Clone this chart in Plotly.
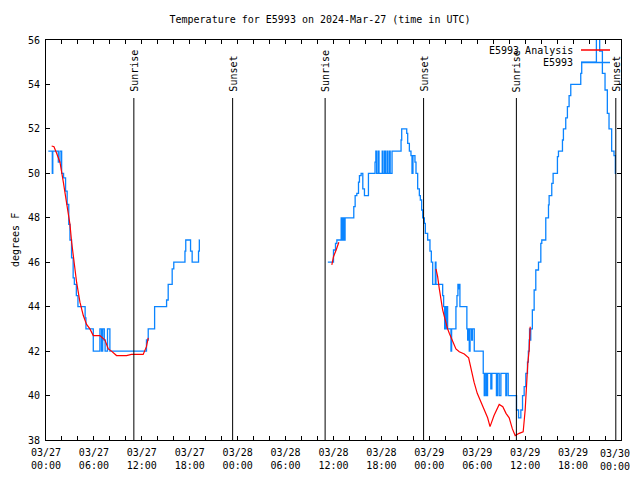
import plotly.graph_objects as go
import pandas as pd

BASE = pd.Timestamp("2024-03-27 00:00")

# ---- data (hours since 2024-03-27 00:00 UTC, temperatures in degrees F) ----
obs_hours = [0.29, 0.79, 0.85, 1.54, 1.75, 1.96, 2.2, 2.45, 2.65, 2.85, 3.0, 3.2, 3.4, 3.55,
             3.8, 4.0, 4.9, 5.0, 5.92, 6.75, 6.95, 7.1, 7.3, 7.4, 7.7, 8.0, 12.58, 12.8,
             13.6, 15.1, 15.3, 15.8, 16.0, 17.4, 17.5, 18.1, 18.3, 19.1, 19.2, 19.25,
             None,
             35.29, 36.0, 36.25, 36.42, 36.96, 37.05, 37.15, 37.3, 37.45, 38.54, 38.71,
             38.92, 39.13, 39.25, 39.46, 39.67, 39.875, 40.375, 41.2, 41.3, 41.4, 41.6,
             41.7, 42.1, 42.2, 42.4, 42.5, 42.7, 42.8, 43.0, 43.1, 43.33, 44.46, 44.54,
             45.17, 45.29, 45.5, 45.7, 45.83, 45.95, 46.2, 46.33, 46.54, 46.75, 46.875,
             47.04, 47.17, 47.375, 47.5, 47.79, 48.08, 48.25, 48.42, 48.75, 48.83,
             49.67, 49.79, 49.92, 50.0, 50.08, 50.17, 50.29, 50.71, 50.79, 51.33, 51.46,
             51.58, 51.65, 51.7, 51.83, 52.7, 52.8, 52.9, 53.0, 53.1, 53.3, 53.4, 53.625,
             54.75, 54.875, 55.0, 55.17, 55.29, 55.7, 55.83, 56.4, 56.54, 56.75, 56.96,
             57.58, 57.67, 57.875, 58.92, 59.17, 59.46, 59.67, 59.875, 60.08, 60.29,
             60.4, 60.5, 60.55, 60.6, 60.7, 60.9, 61.125, 61.33, 61.67, 61.96, 62.08,
             62.58, 62.92, 63.0, 63.33, 63.5, 64.04, 64.17, 64.67, 64.79, 65.08, 65.29,
             65.5, 65.71, 66.96, 67.08, 68.92, 69.33, 69.67, 70.0, 70.29, 70.5, 70.83,
             71.125, 71.29, 71.4]
obs_temps = [51.0, 50.0, 51.0, 50.5, 51.0, 50.0, 49.8, 49.2, 48.6, 47.7, 47.0, 46.2, 45.3, 45.0,
             44.5, 44.0, 43.5, 43.0, 42.0, 43.0, 42.0, 43.0, 42.5, 42.0, 43.0, 42.0, 42.5, 43.0,
             44.0, 44.3, 45.0, 45.7, 46.0, 46.5, 47.0, 46.5, 46.0, 46.5, 47.0, 47.0,
             None,
             46.0, 46.55, 46.85, 47.0, 48.0, 47.0, 48.0, 47.0, 48.0, 48.5, 49.0,
             49.1, 49.6, 49.9, 50.0, 49.3, 49.0, 50.0, 50.5, 51.0, 50.0, 51.0,
             50.0, 51.0, 50.0, 51.0, 50.0, 51.0, 50.0, 51.0, 50.0, 51.0, 51.5, 52.0,
             51.8, 51.35, 51.0, 50.8, 50.0, 50.8, 50.5, 50.0, 49.3, 49.0, 48.8,
             48.35, 48.0, 47.75, 47.3, 47.0, 46.5, 46.0, 45.0, 46.0, 45.0,
             44.5, 44.0, 43.0, 44.0, 43.0, 44.0, 43.0, 42.0, 43.0, 44.0, 44.5,
             45.0, 44.8, 45.0, 44.0, 43.0, 42.5, 43.0, 42.0, 43.0, 42.5, 43.0, 42.0,
             41.0, 40.0, 41.0, 40.0, 41.0, 40.3, 41.0, 40.0, 41.0, 40.0, 41.0,
             40.0, 41.0, 40.0, 39.35, 39.0, 39.35, 40.0, 40.4, 41.0, 41.5,
             42.0, 42.5, 43.0, 42.5, 43.0, 43.85, 44.75, 45.65, 46.0, 46.85, 47.0,
             48.0, 48.58, 49.0, 49.55, 50.0, 50.75, 51.0, 51.5, 52.0, 52.5, 53.0,
             53.5, 54.0, 54.5, 55.0, 57.0, 55.5, 54.5, 53.75, 52.7, 52.0, 51.0,
             50.8, 50.0, 50.0]

ana_hours = [0.71, 1.0, 1.33, 1.75, 2.17, 2.58, 3.0, 3.21, 3.42, 3.83, 4.25, 4.67, 5.08, 5.5,
             5.92, 6.75, 7.38, 7.8, 8.2, 8.83, 10.08, 10.7, 12.17, 12.58, 12.8,
             None,
             35.79, 36.0, 36.33, 36.67,
             None,
             48.83, 49.04, 49.25, 49.46, 49.67, 49.88, 50.08, 50.29, 50.5, 50.92, 51.33,
             51.75, 52.38, 52.92, 53.2, 53.6, 54.0, 54.46, 54.9, 55.3, 55.6, 56.1, 56.75,
             57.2, 57.6, 58.0, 58.4, 58.75, 59.25, 59.75, 60.0, 60.17, 60.33, 60.5, 60.63]
ana_temps = [51.23, 51.2, 50.9, 50.5, 49.6, 48.6, 47.7, 46.9, 46.2, 45.1, 44.2, 43.6, 43.2, 43.0,
             42.7, 42.7, 42.5, 42.1, 42.0, 41.8, 41.8, 41.85, 41.85, 42.2, 42.6,
             None,
             45.88, 46.25, 46.55, 46.9,
             None,
             45.7, 45.35, 44.8, 44.3, 43.85, 43.55, 43.25, 43.0, 42.8, 42.4, 42.1,
             41.97, 41.87, 41.7, 41.2, 40.6, 40.1, 39.7, 39.35, 39.0, 38.6, 39.1, 39.6,
             39.5, 39.2, 39.0, 38.5, 38.2, 38.3, 38.37, 39.35, 40.85, 41.45, 42.05, 43.1]

event_hours = [11.0, 23.37, 34.95, 47.28, 58.9, 71.35]
event_names = ["Sunrise", "Sunset", "Sunrise", "Sunset", "Sunrise", "Sunset"]

tick_hours = list(range(0, 73, 2))
tick_major = {0: "03/27<br>00:00", 6: "03/27<br>06:00", 12: "03/27<br>12:00", 18: "03/27<br>18:00",
              24: "03/28<br>00:00", 30: "03/28<br>06:00", 36: "03/28<br>12:00", 42: "03/28<br>18:00",
              48: "03/29<br>00:00", 54: "03/29<br>06:00", 60: "03/29<br>12:00", 66: "03/29<br>18:00",
              72: "03/30<br>00:00"}
tick_text = [tick_major.get(h, "") for h in tick_hours]

y_range = [38, 56]
title_text = "Temperature for E5993 on 2024-Mar-27 (time in UTC)"
legend_names = ["E5993 Analysis", "E5993"]


def tt(h):
    if h is None:
        return None
    return (BASE + pd.Timedelta(hours=h)).strftime("%Y-%m-%d %H:%M:%S")


FONT = "DejaVu Sans Mono"
RED = "#ff0000"
BLUE = "#0a84ff"

# the page body has an 8px margin and the figure is fitted to the body width,
# so size/offset it to put the plot area at x 46..621, y 40..440 of the window
OFF = 8
W, H = 640 - 2 * OFF, 480 - OFF
L, T = 46 - OFF, 40 - OFF
R = W - (621 - OFF)
B = H - (440 - OFF)
pw = 621 - 46
ph = 440 - 40

fig = go.Figure()
fig.add_trace(go.Scatter(x=[tt(h) for h in obs_hours], y=obs_temps, mode="lines",
                         line=dict(color=BLUE, width=1.3, shape="hv"), name=legend_names[1],
                         connectgaps=False, showlegend=False))
fig.add_trace(go.Scatter(x=[tt(h) for h in ana_hours], y=ana_temps, mode="lines",
                         line=dict(color=RED, width=1.2), name=legend_names[0],
                         connectgaps=False, showlegend=False))

shapes = []
annotations = []
line_top = (440 - 98) / ph
for h, name in zip(event_hours, event_names):
    shapes.append(dict(type="line", xref="x", yref="paper", x0=tt(h), x1=tt(h), y0=0, y1=line_top,
                       line=dict(color="black", width=1)))
    annotations.append(dict(x=tt(h), xref="x", y=(440 - 94) / ph, yref="paper", text=name,
                            textangle=-90, showarrow=False, xanchor="center", yanchor="bottom",
                            font=dict(family=FONT, size=10, color="black")))

# custom legend (text left of the sample line, gnuplot style)
for i, (name, col) in enumerate(zip(legend_names, [RED, BLUE])):
    ypix = 50 + 12.5 * i
    yp = (440 - ypix) / ph
    annotations.append(dict(x=(575 - 46) / pw, xref="paper", y=yp, yref="paper", text=name,
                            showarrow=False, xanchor="right", yanchor="middle",
                            font=dict(family=FONT, size=10, color="black")))
    shapes.append(dict(type="line", xref="paper", yref="paper", x0=(581 - 46) / pw, x1=(610 - 46) / pw,
                       y0=yp, y1=yp, line=dict(color=col, width=1.5)))

annotations.append(dict(x=(15 - 46) / pw, xref="paper", y=0.5, yref="paper", text="degrees F",
                        textangle=-90, showarrow=False, xanchor="center", yanchor="middle",
                        font=dict(family=FONT, size=10, color="black")))

# the last tick label would run past the page edge: draw it right-aligned to the edge
last_label = tick_text[-1]
tick_text_axis = tick_text[:-1] + [""]
annotations.append(dict(x=(632 - 46) / pw, xref="paper", y=-6 / ph, yref="paper",
                        text=last_label, showarrow=False, xanchor="right", yanchor="top",
                        align="center", font=dict(family=FONT, size=10, color="black")))

fig.update_layout(
    width=W, height=H, autosize=False,
    margin=dict(l=L, r=R, t=T, b=B, pad=0, autoexpand=False),
    paper_bgcolor="white", plot_bgcolor="white",
    title=dict(text=title_text, x=(320 - OFF) / W, xref="container", xanchor="center",
               y=1 - (19 - OFF) / H, yref="container", yanchor="middle",
               font=dict(family=FONT, size=10, color="black")),
    font=dict(family=FONT, size=10, color="black"),
    shapes=shapes, annotations=annotations,
    xaxis=dict(type="date", range=[tt(0), tt(72)], tickmode="array",
               tickvals=[tt(h) for h in tick_hours], ticktext=tick_text_axis,
               ticks="inside", ticklen=4, tickcolor="black", tickwidth=1,
               ticklabelstandoff=3, automargin=False,
               showline=True, linecolor="black", linewidth=1, mirror="ticks",
               showgrid=False, zeroline=False, tickangle=0,
               tickfont=dict(family=FONT, size=10, color="black")),
    yaxis=dict(range=y_range, dtick=2, tick0=38, ticks="inside", ticklen=4, tickcolor="black",
               tickwidth=1, ticklabelstandoff=3, automargin=False,
               showline=True, linecolor="black", linewidth=1, mirror="ticks",
               showgrid=False, zeroline=False,
               tickfont=dict(family=FONT, size=10, color="black")),
    showlegend=False,
)

fig.write_html("out.html")
